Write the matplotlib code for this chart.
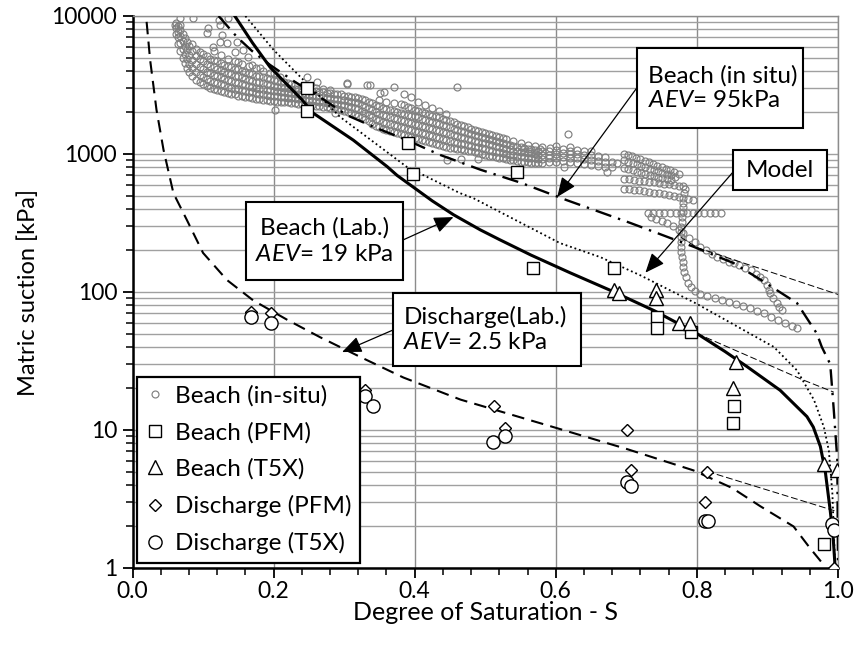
import matplotlib
matplotlib.use("Agg")
import matplotlib.pyplot as plt
from matplotlib.patches import Rectangle

plt.rcParams['font.family'] = ['Lato', 'DejaVu Sans']
plt.rcParams['mathtext.fontset'] = 'custom'
plt.rcParams['mathtext.rm'] = 'Lato'
plt.rcParams['mathtext.it'] = 'Lato:italic'

# ---- fitted curves (S, suction kPa) ----
beach_lab_s = [0.145, 0.17, 0.195, 0.241, 0.256, 0.313, 0.361, 0.375, 0.425, 0.455, 0.493, 0.52,
               0.565, 0.62, 0.677, 0.74, 0.80, 0.84, 0.871, 0.918, 0.956, 0.965, 0.975, 0.982,
               0.989, 0.993, 0.996]
beach_lab_psi = [10000, 6400, 4260, 2450, 1980, 1260, 810, 700, 457, 363, 282, 240,
                 185, 138, 103, 73, 50, 37, 28.8, 19.4, 12.5, 10.5, 7.6, 5.0,
                 2.6, 1.7, 1.0]

model_s = [0.16, 0.2, 0.294, 0.389, 0.464, 0.483, 0.606, 0.663, 0.72, 0.80, 0.875,
           0.909, 0.942, 0.966, 0.98, 0.987, 0.992, 0.996]
model_psi = [10000, 5680, 1860, 805, 521, 479, 226, 179, 132, 82, 50,
             40, 27, 16.5, 10.5, 7.1, 3.5, 1.0]

insitu_fit_s = [0.122, 0.148, 0.169, 0.195, 0.233, 0.257, 0.304, 0.342, 0.389, 0.436, 0.493,
                0.55, 0.615, 0.706, 0.795, 0.852, 0.89, 0.942, 0.97, 0.977, 0.989, 0.994,
                0.999, 1.0]
insitu_fit_psi = [10000, 7050, 5600, 4420, 3260, 2770, 1910, 1570, 1260, 985, 770,
                  620, 464, 316, 213, 162, 123, 83, 50, 40, 30, 14,
                  6.1, 1.0]

discharge_lab_s = [0.02, 0.025, 0.034, 0.044, 0.058, 0.077, 0.1, 0.134, 0.171, 0.219, 0.266,
                   0.322, 0.384, 0.465, 0.602, 0.70, 0.795, 0.85, 0.89, 0.937, 0.96, 0.98]
discharge_lab_psi = [9070, 4800, 2090, 1070, 520, 333, 192, 122, 87, 63, 47,
                     34, 24, 16.6, 10.3, 7.3, 5.1, 3.8, 2.8, 2.0, 1.4, 1.05]

thin_lines = [
    ([0.777, 0.80, 1.0], [250, 210, 96]),
    ([0.80, 0.951, 0.994], [50, 23, 18.8]),
    ([0.815, 0.995], [5.0, 2.6]),
]

# ---- laboratory points ----
beach_pfm_s = [0.247, 0.247, 0.391, 0.398, 0.545, 0.567, 0.683, 0.744, 0.744, 0.791, 0.853, 0.851, 0.98]
beach_pfm_psi = [3000, 2050, 1200, 716, 740, 149, 149, 66, 55, 51, 15, 11.2, 1.5]

beach_t5x_s = [0.683, 0.69, 0.742, 0.742, 0.775, 0.79, 0.855, 0.851, 0.98, 0.998]
beach_t5x_psi = [103, 99, 103, 90, 60, 60, 31, 20, 5.7, 5.1]

dis_pfm_s = [0.168, 0.196, 0.33, 0.512, 0.528, 0.701, 0.706, 0.815, 0.812, 0.994]
dis_pfm_psi = [72, 70, 19.5, 15, 10.3, 10, 5.1, 5.0, 3.0, 1.0]

dis_t5x_s = [0.168, 0.196, 0.33, 0.341, 0.511, 0.528, 0.701, 0.706, 0.812, 0.816, 0.992, 0.995]
dis_t5x_psi = [66, 60, 17.5, 15, 8.2, 9.1, 4.2, 3.9, 2.2, 2.2, 2.1, 1.9]

# ---- in-situ field points (columns of S with suction readings) ----
insitu_cols = [
    (0.062, [7400, 8200, 8900]), (0.065, [6300, 7000, 7700, 8400]),
    (0.068, [5600, 6400, 7200, 7900]), (0.071, [5000, 5800, 6600, 7400]),
    (0.074, [4600, 5300, 6100, 6900]), (0.077, [4200, 4900, 5700, 6500]),
    (0.080, [3900, 4500, 5200, 6100]), (0.085, [3650, 4200, 4800, 5600, 6300]),
    (0.090, [3450, 3900, 4500, 5100, 5800]), (0.095, [3300, 3750, 4300, 4900, 5500]),
    (0.100, [3200, 3600, 4100, 4700, 5300]), (0.105, [3100, 3500, 3950, 4500, 5100]),
    (0.110, [3000, 3400, 3850, 4350, 4900]), (0.115, [2950, 3300, 3750, 4250, 4800, 5600]),
    (0.120, [2900, 3250, 3650, 4150, 4700]), (0.125, [2850, 3200, 3600, 4050, 4600, 5200]),
    (0.130, [2800, 3150, 3500, 3950, 4450]), (0.135, [2750, 3050, 3450, 3850, 4350, 4900]),
    (0.140, [2720, 3000, 3400, 3800, 4250]), (0.145, [2700, 2950, 3300, 3700, 4150, 4700]),
    (0.150, [2650, 2950, 3250, 3650, 4100]), (0.155, [2620, 2900, 3200, 3600, 4000, 4500]),
    (0.160, [2600, 2850, 3150, 3500, 3950]), (0.165, [2570, 2820, 3100, 3450, 3850, 4350]),
    (0.170, [2550, 2800, 3050, 3400, 3800]), (0.175, [2520, 2750, 3000, 3350, 3700, 4200]),
    (0.180, [2500, 2720, 2980, 3300, 3650]), (0.185, [2480, 2700, 2950, 3250, 3600, 4000]),
    (0.190, [2460, 2680, 2920, 3200, 3550]), (0.195, [2440, 2650, 2900, 3150, 3500]),
    (0.200, [2420, 2630, 2870, 3100, 3450, 3850]), (0.205, [2400, 2620, 2850, 3080, 3400]),
    (0.210, [2390, 2600, 2820, 3050, 3350]), (0.215, [2380, 2580, 2800, 3020, 3300]),
    (0.220, [2370, 2560, 2780, 3000, 3250]), (0.225, [2350, 2550, 2760, 2980, 3200]),
    (0.230, [2330, 2530, 2740, 2960, 3150]), (0.235, [2320, 2510, 2720, 2940]),
    (0.240, [2300, 2490, 2700, 2920, 3100]), (0.245, [2280, 2470, 2680, 2900]),
    (0.250, [2260, 2450, 2660, 2880, 3050]), (0.255, [2250, 2430, 2640, 2860]),
    (0.260, [2230, 2420, 2620, 2840, 3000]), (0.265, [2220, 2400, 2600, 2820]),
    (0.270, [2200, 2380, 2580, 2800, 2950]), (0.275, [2180, 2360, 2560, 2780]),
    (0.280, [2160, 2340, 2540, 2760, 2900]), (0.285, [2140, 2320, 2520, 2740]),
    (0.290, [2120, 2300, 2500, 2720]), (0.295, [2100, 2280, 2480, 2700]),
    (0.300, [2060, 2250, 2450, 2650]), (0.305, [2020, 2220, 2420, 2620]),
    (0.310, [1980, 2190, 2400, 2600]), (0.315, [1950, 2160, 2380, 2580]),
    (0.320, [1900, 2130, 2350, 2560]), (0.325, [1850, 2050, 2280, 2500]),
    (0.330, [1780, 1980, 2200, 2450]), (0.335, [1720, 1920, 2150, 2400]),
    (0.340, [1650, 1860, 2080, 2330]), (0.345, [1600, 1800, 2020, 2280]),
    (0.350, [1560, 1750, 1960, 2220, 2450]), (0.355, [1530, 1710, 1920, 2160]),
    (0.360, [1500, 1680, 1880, 2120, 2400]), (0.365, [1470, 1650, 1850, 2080]),
    (0.370, [1440, 1620, 1820, 2050, 2350]), (0.375, [1420, 1600, 1790, 2020]),
    (0.380, [1400, 1570, 1760, 1990, 2300]), (0.385, [1370, 1540, 1730, 1960, 2250, 2700]),
    (0.390, [1350, 1520, 1700, 1930, 2200]), (0.395, [1330, 1500, 1680, 1900, 2150, 2600]),
    (0.400, [1300, 1470, 1650, 1870, 2100]), (0.405, [1280, 1450, 1630, 1840, 2050, 2400]),
    (0.410, [1260, 1420, 1600, 1800, 2000]), (0.415, [1240, 1400, 1570, 1770, 1980, 2250]),
    (0.420, [1220, 1380, 1550, 1740, 1950]), (0.425, [1200, 1350, 1520, 1710, 1900, 2150]),
    (0.430, [1180, 1330, 1500, 1680, 1870]), (0.435, [1160, 1310, 1470, 1650, 1840, 2050]),
    (0.440, [1140, 1290, 1450, 1620, 1800]), (0.445, [1120, 1270, 1420, 1590, 1760, 1950]),
    (0.450, [1110, 1250, 1400, 1560, 1720]), (0.455, [1100, 1230, 1380, 1530, 1700]),
    (0.460, [1090, 1210, 1350, 1500, 1660]), (0.465, [1080, 1190, 1330, 1480, 1630]),
    (0.470, [1070, 1180, 1310, 1450, 1600]), (0.475, [1060, 1160, 1290, 1420, 1560]),
    (0.480, [1050, 1150, 1270, 1400, 1530]), (0.485, [1040, 1130, 1250, 1370, 1500]),
    (0.490, [1020, 1120, 1230, 1350, 1470]), (0.495, [1000, 1100, 1210, 1330, 1450]),
    (0.500, [990, 1090, 1200, 1310, 1420]), (0.505, [970, 1070, 1180, 1290, 1400]),
    (0.510, [960, 1060, 1160, 1270, 1380]), (0.515, [950, 1040, 1140, 1250, 1350]),
    (0.520, [940, 1030, 1130, 1230, 1330]), (0.525, [930, 1020, 1110, 1210, 1310]),
    (0.530, [920, 1000, 1090, 1190, 1290]), (0.535, [910, 990, 1080, 1170]),
    (0.540, [900, 980, 1060, 1150, 1250]), (0.545, [890, 970, 1050, 1130]),
    (0.550, [880, 960, 1040, 1120, 1200]), (0.555, [875, 950, 1030, 1100]),
    (0.560, [870, 940, 1020, 1090, 1170]), (0.565, [865, 935, 1010, 1080]),
    (0.570, [860, 930, 1000, 1070, 1140]), (0.575, [860, 925, 990, 1060]),
    (0.580, [860, 920, 985, 1050, 1120]), (0.590, [870, 930, 990, 1060]),
    (0.600, [880, 940, 1000, 1070, 1150]), (0.610, [890, 950, 1010, 1080]),
    (0.620, [880, 940, 1000, 1060, 1130]), (0.630, [860, 930, 1000, 1070]),
    (0.640, [850, 920, 990, 1060]), (0.650, [830, 900, 980, 1050]),
    (0.660, [820, 890, 960]), (0.670, [810, 880, 950]), (0.680, [800, 870]),
]

insitu_outliers = [
    (0.067, 9650), (0.086, 9650), (0.06, 8600), (0.067, 8600), (0.107, 8200), (0.105, 7530),
    (0.124, 8600), (0.122, 9350), (0.136, 9650), (0.127, 7280), (0.124, 6470), (0.134, 6370),
    (0.148, 6470), (0.145, 5480), (0.157, 5660), (0.114, 5960), (0.164, 5040), (0.169, 4420),
    (0.150, 4650), (0.181, 4200), (0.195, 3860), (0.209, 3610), (0.247, 3610), (0.261, 3320),
    (0.304, 3260), (0.202, 2090), (0.287, 1980), (0.304, 3210), (0.332, 3160), (0.336, 3160),
    (0.37, 3050), (0.351, 2770), (0.357, 2800), (0.46, 3050), (0.446, 910), (0.465, 920),
    (0.49, 920), (0.578, 1090), (0.618, 1400), (0.592, 1110), (0.611, 810), (0.673, 740),
    (0.687, 860),
]

insitu_streaks = [
    # cluster of drying paths near S = 0.70 - 0.79
    (0.697, 1000), (0.702, 985), (0.708, 960), (0.714, 940), (0.720, 915), (0.726, 890),
    (0.732, 870), (0.738, 845), (0.744, 820), (0.750, 800), (0.756, 780), (0.762, 760),
    (0.768, 740), (0.774, 720),
    (0.697, 900), (0.703, 880), (0.709, 865), (0.715, 845), (0.721, 825), (0.727, 805),
    (0.733, 785), (0.739, 765), (0.745, 750), (0.751, 730), (0.757, 715), (0.763, 700),
    (0.769, 685),
    (0.697, 790), (0.703, 775), (0.709, 760), (0.715, 745), (0.721, 730), (0.727, 715),
    (0.733, 700), (0.739, 690), (0.745, 675), (0.751, 665), (0.757, 655), (0.763, 645),
    (0.697, 660), (0.704, 655), (0.711, 648), (0.718, 642), (0.725, 636), (0.732, 630),
    (0.739, 622), (0.746, 615), (0.753, 608), (0.760, 602), (0.767, 596), (0.774, 590),
    (0.781, 585),
    (0.697, 560), (0.704, 555), (0.711, 550), (0.718, 545), (0.725, 540), (0.732, 532),
    (0.739, 525), (0.746, 518), (0.753, 510), (0.760, 502), (0.767, 495), (0.774, 487),
    (0.781, 480), (0.788, 472), (0.795, 465),
    # vertical path at S ~ 0.78 and its tail
    (0.783, 560), (0.782, 520), (0.781, 445), (0.780, 410), (0.780, 380), (0.779, 350),
    (0.779, 320), (0.778, 296), (0.778, 272), (0.777, 250), (0.777, 230), (0.777, 212),
    (0.778, 195), (0.779, 180), (0.780, 165), (0.781, 152), (0.782, 140), (0.785, 128),
    (0.788, 117), (0.792, 108), (0.797, 101), (0.805, 96), (0.815, 93), (0.825, 90),
    (0.835, 87), (0.845, 85), (0.855, 82), (0.865, 79), (0.875, 76), (0.885, 73),
    (0.895, 70), (0.905, 66), (0.915, 63), (0.925, 60), (0.935, 57), (0.942, 55),
    # horizontal path at ~375 kPa and its descent
    (0.730, 374), (0.738, 376), (0.746, 375), (0.754, 376), (0.762, 374), (0.770, 375),
    (0.778, 376), (0.786, 374), (0.794, 375), (0.802, 374), (0.810, 375), (0.818, 374),
    (0.826, 375), (0.834, 374),
    (0.735, 350), (0.742, 336), (0.750, 325), (0.758, 316), (0.766, 300), (0.774, 283),
    (0.781, 268), (0.789, 248), (0.797, 230), (0.805, 213), (0.813, 200), (0.821, 189),
    (0.829, 179), (0.837, 172), (0.845, 166), (0.852, 162), (0.860, 156), (0.868, 150),
    (0.876, 145), (0.884, 136), (0.890, 128), (0.895, 123), (0.899, 112), (0.902, 104),
    (0.904, 98), (0.908, 90), (0.913, 83), (0.917, 78), (0.921, 74),
]

legend_labels = ['Beach (in-situ)', 'Beach (PFM)', 'Beach (T5X)', 'Discharge (PFM)', 'Discharge (T5X)']
y_ticks = [1, 10, 100, 1000, 10000]
y_ticklabels = ['1', '10', '100', '1000', '10000']
x_ticks = [0.0, 0.2, 0.4, 0.6, 0.8, 1.0]
x_ticklabels = ['0.0', '0.2', '0.4', '0.6', '0.8', '1.0']

# expand field data
field_s = [c for c, ps in insitu_cols for p in ps]
field_psi = [p for c, ps in insitu_cols for p in ps]
field_s += [p[0] for p in insitu_outliers + insitu_streaks]
field_psi += [p[1] for p in insitu_outliers + insitu_streaks]

fig = plt.figure(figsize=(8.55, 6.45), dpi=100)
ax = fig.add_axes([132.5 / 855, 77 / 645, 705.5 / 855, 552 / 645])
ax.set_yscale('log')
ax.set_xlim(0, 1)
ax.set_ylim(1, 10000)

grid_c = '#a0a0a0'
ax.set_xticks(x_ticks)
ax.set_xticklabels(x_ticklabels)
ax.set_xticks([i * 0.04 for i in range(26)], minor=True)
ax.set_yticks(y_ticks)
ax.set_yticklabels(y_ticklabels)
ax.yaxis.set_minor_formatter(plt.NullFormatter())
ax.grid(True, axis='x', which='major', color='#8c8c8c', lw=1.0)
ax.grid(True, axis='y', which='both', color=grid_c, lw=1.0)
ax.set_axisbelow(True)
ax.tick_params(which='major', length=7, width=1.3, labelsize=16.5, direction='out')
ax.tick_params(axis='x', which='major', pad=2)
ax.tick_params(axis='y', which='major', pad=4)
ax.tick_params(which='minor', length=5, width=1.1, direction='out')
for side in ['left', 'bottom']:
    ax.spines[side].set_color('black')
    ax.spines[side].set_linewidth(1.8)
for side in ['top', 'right']:
    ax.spines[side].set_color('#8c8c8c')
    ax.spines[side].set_linewidth(1.0)

ax.set_xlabel('Degree of Saturation - S', fontsize=18, labelpad=0)
ax.set_ylabel('Matric suction [kPa]', fontsize=17, labelpad=9)

# field cloud
h_field, = ax.plot(field_s, field_psi, linestyle='none', marker='o', ms=5,
                   mfc='none', mec='#808080', mew=0.85, zorder=2)

# curves
ax.plot(discharge_lab_s, discharge_lab_psi, color='black', lw=1.5, ls=(0, (6, 3.5)), zorder=3)
ax.plot(insitu_fit_s, insitu_fit_psi, color='black', lw=1.7, ls=(0, (7, 3, 1, 3)), zorder=3)
ax.plot(model_s, model_psi, color='black', lw=1.3, ls=(0, (1, 1.6)), zorder=3)
ax.plot(beach_lab_s, beach_lab_psi, color='black', lw=2.2, zorder=3)
for xs, ys in thin_lines:
    ax.plot(xs, ys, color='black', lw=0.7, ls=(0, (7, 3)), zorder=3)

mk = dict(linestyle='none', mfc='white', mec='black', mew=1.0, zorder=4)
h_bp, = ax.plot(beach_pfm_s, beach_pfm_psi, marker='s', ms=9, **mk)
h_bt, = ax.plot(beach_t5x_s, beach_t5x_psi, marker='^', ms=9.5, **mk)
h_dp, = ax.plot(dis_pfm_s, dis_pfm_psi, marker='D', ms=6.5, **mk)
h_dt, = ax.plot(dis_t5x_s, dis_t5x_psi, marker='o', ms=9.5, **mk)

leg = ax.legend([h_field, h_bp, h_bt, h_dp, h_dt], legend_labels, loc='lower left',
                bbox_to_anchor=(0.006, 0.009), borderaxespad=0, fontsize=17.5,
                frameon=True, fancybox=False, edgecolor='black', framealpha=1,
                handlelength=0.8, handletextpad=0.4, labelspacing=0.62, borderpad=0.36)
leg.get_frame().set_linewidth(1.6)
leg.set_zorder(7)

# annotation boxes (axes fraction) and arrows
boxes = [
    ((0.715, 0.797), 0.235, 0.145),
    ((0.851, 0.685), 0.133, 0.072),
    ((0.161, 0.522), 0.222, 0.141),
    ((0.369, 0.366), 0.267, 0.132),
]
for (x0, y0), w, h in boxes:
    ax.add_patch(Rectangle((x0, y0), w, h, transform=ax.transAxes, fc='white',
                           ec='black', lw=1.5, zorder=6))

ax.text(0.731, 0.8695, 'Beach (in situ)\n$AEV$= 95kPa', transform=ax.transAxes,
        ha='left', va='center', fontsize=17.5, linespacing=1.2, zorder=7)
ax.text(0.918, 0.721, 'Model', transform=ax.transAxes, ha='center', va='center',
        fontsize=17.5, zorder=7)
ax.text(0.272, 0.5925, 'Beach (Lab.)\n$AEV$= 19 kPa', transform=ax.transAxes,
        ha='center', va='center', multialignment='center', fontsize=17.5,
        linespacing=1.3, zorder=7)
ax.text(0.384, 0.432, 'Discharge(Lab.)\n$AEV$= 2.5 kPa', transform=ax.transAxes,
        ha='left', va='center', fontsize=17.5, linespacing=1.25, zorder=7)

arrows = [
    ((0.602, 488), (0.715, 0.870)),
    ((0.727, 138), (0.851, 0.717)),
    ((0.455, 349), (0.383, 0.594)),
    ((0.297, 36.7), (0.369, 0.431)),
]
for tip, start in arrows:
    ax.annotate('', xy=tip, xycoords='data', xytext=start, textcoords='axes fraction',
                arrowprops=dict(arrowstyle='-|>,head_length=0.6,head_width=0.25',
                                color='black', lw=0.9, mutation_scale=20,
                                shrinkA=0, shrinkB=0), zorder=6)

fig.savefig('out.png', dpi=100)
